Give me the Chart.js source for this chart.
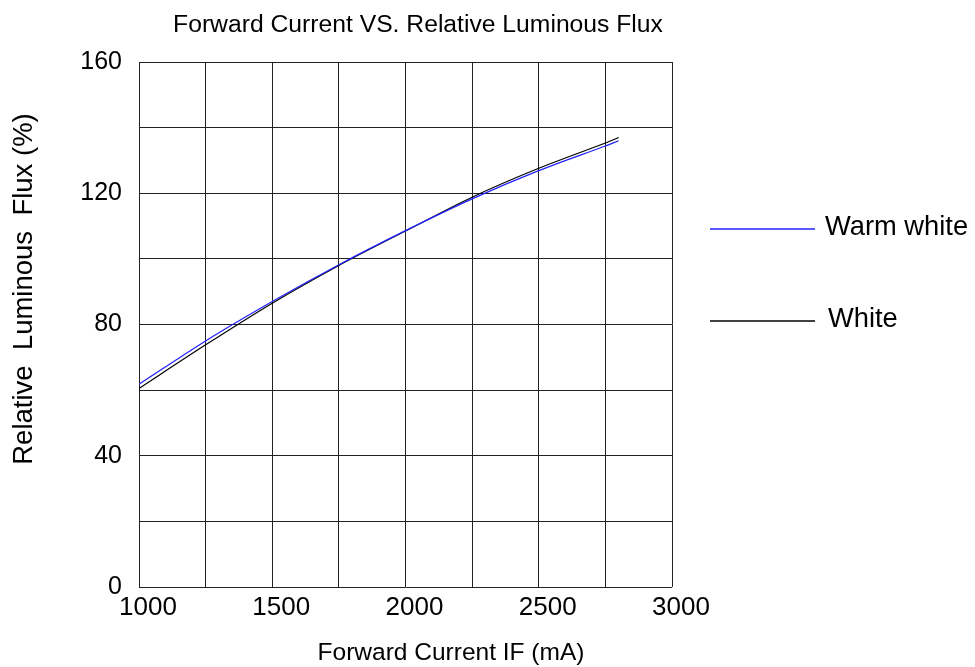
<!DOCTYPE html>
<html>
<head>
<meta charset="utf-8">
<script src="https://cdn.jsdelivr.net/npm/chart.js@4/dist/chart.umd.min.js"></script>
<style>
  html, body { margin: 0; padding: 0; background: #fff; }
  #wrap { width: 975px; height: 667px; }
</style>
</head>
<body>
<div id="wrap"><canvas id="fluxChart" width="975" height="667"></canvas></div>
<script>
const currents = [1000, 1250, 1500, 1750, 2000, 2250, 2500, 2750, 2800];
const warmWhite = [61.8, 75.0, 87.0, 98.2, 108.6, 118.3, 126.9, 134.4, 136.0];
const white = [60.5, 73.8, 86.5, 98.0, 108.5, 118.8, 127.6, 135.3, 137.0];
const seriesNames = ["Warm white", "White"];
const xTickLabels = [1000, 1500, 2000, 2500, 3000];
const yTickLabels = [0, 40, 80, 120, 160];

const chartTitle = "Forward Current VS. Relative Luminous Flux";
const xTitle = "Forward Current IF (mA)";
const yTitle = "Relative  Luminous  Flux (%)";

const FONT = "'Liberation Sans', Arial, sans-serif";

function toPoints(ys) {
  return currents.map((c, i) => ({ x: c, y: ys[i] }));
}

// titles and the legend on the right
const extrasPlugin = {
  id: "extras",
  afterDraw(chart) {
    const ctx = chart.ctx;
    ctx.save();
    ctx.fillStyle = "#000";
    ctx.textBaseline = "middle";
    ctx.textAlign = "center";

    ctx.font = "24.7px " + FONT;
    ctx.fillText(chartTitle, 418, 25);

    ctx.font = "24.5px " + FONT;
    ctx.fillText(xTitle, 451, 653);

    ctx.save();
    ctx.translate(24, 289);
    ctx.rotate(-Math.PI / 2);
    ctx.font = "27.5px " + FONT;
    ctx.fillText(yTitle, 0, 0);
    ctx.restore();

    const rows = [{ y: 229, tx: 825 }, { y: 321, tx: 828 }];
    chart.data.datasets.forEach((ds, i) => {
      const r = rows[i];
      ctx.strokeStyle = ds.borderColor;
      ctx.lineWidth = 1.3;
      ctx.beginPath();
      ctx.moveTo(710, r.y);
      ctx.lineTo(815, r.y);
      ctx.stroke();
      ctx.font = "27.3px " + FONT;
      ctx.textAlign = "left";
      ctx.fillText(ds.label, r.tx, r.y - 2);
    });
    ctx.restore();
  }
};

new Chart(document.getElementById("fluxChart"), {
  type: "line",
  data: {
    datasets: [
      {
        label: seriesNames[0],
        data: toPoints(warmWhite),
        borderColor: "#2020ff",
        borderWidth: 1.2,
        pointRadius: 0,
        tension: 0.3,
        fill: false
      },
      {
        label: seriesNames[1],
        data: toPoints(white),
        borderColor: "#000000",
        borderWidth: 1.2,
        pointRadius: 0,
        tension: 0.3,
        fill: false
      }
    ]
  },
  options: {
    responsive: false,
    animation: false,
    layout: { padding: { left: 0, right: 303, top: 62, bottom: 0 } },
    plugins: {
      legend: { display: false },
      title: { display: false },
      tooltip: { enabled: false }
    },
    scales: {
      x: {
        type: "linear",
        min: 1000,
        max: 3000,
        border: { display: false },
        grid: { color: "#222", lineWidth: 1, drawTicks: false },
        ticks: {
          stepSize: 250,
          autoSkip: false,
          maxRotation: 0,
          padding: 5,
          labelOffset: 9,
          color: "#000",
          font: { family: FONT, size: 26 },
          callback: v => xTickLabels.includes(v) ? String(v) : ""
        },
        afterFit(scale) { scale.height = 80; }
      },
      y: {
        min: 0,
        max: 160,
        border: { display: false },
        grid: { color: "#222", lineWidth: 1, drawTicks: false },
        ticks: {
          stepSize: 20,
          autoSkip: false,
          padding: 17,
          color: "#000",
          font: { family: FONT, size: 25 },
          callback: v => yTickLabels.includes(v) ? String(v) : ""
        },
        afterFit(scale) { scale.width = 139; }
      }
    }
  },
  plugins: [extrasPlugin]
});
</script>
</body>
</html>
